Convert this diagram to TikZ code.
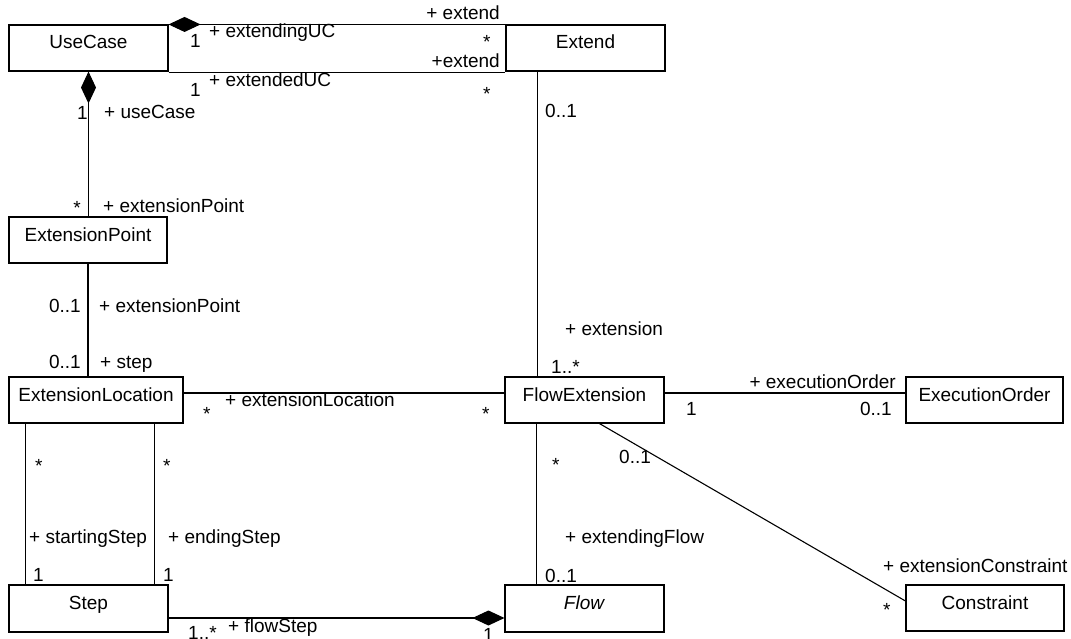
\documentclass[tikz,border=0pt]{standalone}
\usepackage{fontspec}
\setmainfont{Liberation Sans}
\usetikzlibrary{arrows.meta}

\begin{document}
\begin{tikzpicture}[x=1pt, y=-1pt, font=\fontsize{19}{22}\selectfont,
        cls/.style={draw, line width=1.1pt, rectangle, minimum width=159pt, minimum height=46pt, inner sep=0pt, text height=13pt, text depth=11pt},
        assoc/.style={line width=1.1pt},
        comp/.style={assoc, {Diamond[length=32pt, width=15pt]}-},
        lbl/.style={inner sep=0pt, anchor=base west},
        lblr/.style={inner sep=0pt, anchor=base east}]
        \useasboundingbox (0, 0) rectangle (1071, 639);

        \node[cls] (UseCase) at (88.5, 48) {UseCase};
        \node[cls] (Extend) at (585.5, 48) {Extend};
        \node[cls, minimum width=158pt] (ExtPoint) at (88, 240) {ExtensionPoint};
        \node[cls, minimum width=174pt] (ExtLocation) at (96, 400) {ExtensionLocation};
        \node[cls] (FlowExt) at (584.5, 400) {FlowExtension};
        \node[cls, minimum width=157pt] (ExecOrder) at (984.5, 400) {ExecutionOrder};
        \node[cls, minimum height=47pt] (Step) at (88.5, 608.5) {Step};
        \node[cls, minimum height=47pt] (Flow) at (584.5, 608.5) {\textit{Flow}};
        \node[cls, minimum width=158pt] (Constraint) at (985, 608) {Constraint};

        \draw[comp] (UseCase.north east) -- (Extend.north west);
        \node[lblr] (extendRoleA) at (500, 20) {+ extend};
        \node[lbl] (ucMultA) at (190, 48) {1};
        \node[lbl] (ucRoleA) at (209, 38) {+ extendingUC};
        \node[lbl] (extMultA) at (483, 49) {*};

        \draw[assoc] ([yshift=-1pt]UseCase.south east) -- ([yshift=-1pt]Extend.south west);
        \node[lblr] (extendRoleB) at (500, 68) {+extend};
        \node[lbl] (ucMultB) at (190, 97) {1};
        \node[lbl] (ucRoleB) at (209, 87) {+ extendedUC};
        \node[lbl] (extMultB) at (483, 101) {*};

        \draw[comp] (UseCase.south) -- (UseCase.south |- ExtPoint.north);
        \node[lblr] (ucMultC) at (88, 120) {1};
        \node[lbl] (ucRoleC) at (104, 119) {+ useCase};
        \node[lblr] (epMult) at (81, 215) {*};
        \node[lbl] (epRole) at (103, 213) {+ extensionPoint};

        \draw[assoc] (ExtPoint.south) -- (ExtPoint.south |- ExtLocation.north);
        \node[lblr] (epMultB) at (81, 312) {0..1};
        \node[lbl] (epRoleB) at (99, 312) {+ extensionPoint};
        \node[lblr] (elMult) at (81, 368) {0..1};
        \node[lbl] (elRole) at (100, 368) {+ step};

        \draw[assoc] ([xshift=32pt]Extend.south west) -- ([xshift=32pt]Extend.south west |- FlowExt.north);
        \node[lbl] (extMultC) at (545, 118) {0..1};
        \node[lbl] (feRole) at (565, 335) {+ extension};
        \node[lbl] (feMult) at (551, 373) {1..*};

        \draw[assoc] ([yshift=7pt]ExtLocation.east) -- ([yshift=7pt]FlowExt.west);
        \node[lbl] (elMultB) at (203, 420) {*};
        \node[lbl] (elRoleB) at (225, 406) {+ extensionLocation};
        \node[lbl] (feMultB) at (482, 420) {*};

        \draw[assoc] ([yshift=7pt]FlowExt.east) -- ([yshift=7pt]ExecOrder.west);
        \node[lblr] (eoRole) at (896, 388) {+ executionOrder};
        \node[lbl] (feMultC) at (686, 415) {1};
        \node[lblr] (eoMult) at (892, 415) {0..1};

        \draw[assoc] ([xshift=17pt]ExtLocation.south west) -- ([xshift=17pt]ExtLocation.south west |- Step.north);
        \draw[assoc] ([xshift=-29pt]ExtLocation.south east) -- ([xshift=-29pt]ExtLocation.south east |- Step.north);
        \node[lbl] (elMultC) at (35, 472) {*};
        \node[lbl] (elMultD) at (163, 472) {*};
        \node[lbl] (startRole) at (29, 543) {+ startingStep};
        \node[lbl] (endRole) at (168, 543) {+ endingStep};
        \node[lbl] (startMult) at (33, 581) {1};
        \node[lbl] (endMult) at (163, 581) {1};

        \draw[assoc] ([xshift=32pt]FlowExt.south west) -- ([xshift=32pt]FlowExt.south west |- Flow.north);
        \node[lbl] (feMultD) at (552, 471) {*};
        \node[lbl] (flowRole) at (565, 543) {+ extendingFlow};
        \node[lbl] (flowMult) at (545, 582) {0..1};

        \draw[assoc] ([xshift=95pt]FlowExt.south west) -- ([yshift=7pt]Constraint.west);
        \node[lbl] (feMultE) at (619, 463) {0..1};
        \node[lbl] (conRole) at (883, 572) {+ extensionConstraint};
        \node[lbl] (conMult) at (883, 616) {*};

        \draw[comp] ([yshift=-9.5pt]Flow.west) -- ([yshift=-9.5pt]Step.east);
        \node[lbl] (stepMult) at (188, 639) {1..*};
        \node[lbl] (stepRole) at (228, 632) {+ flowStep};
        \node[lbl] (flowMultB) at (483, 641) {1};
\end{tikzpicture}
\end{document}
